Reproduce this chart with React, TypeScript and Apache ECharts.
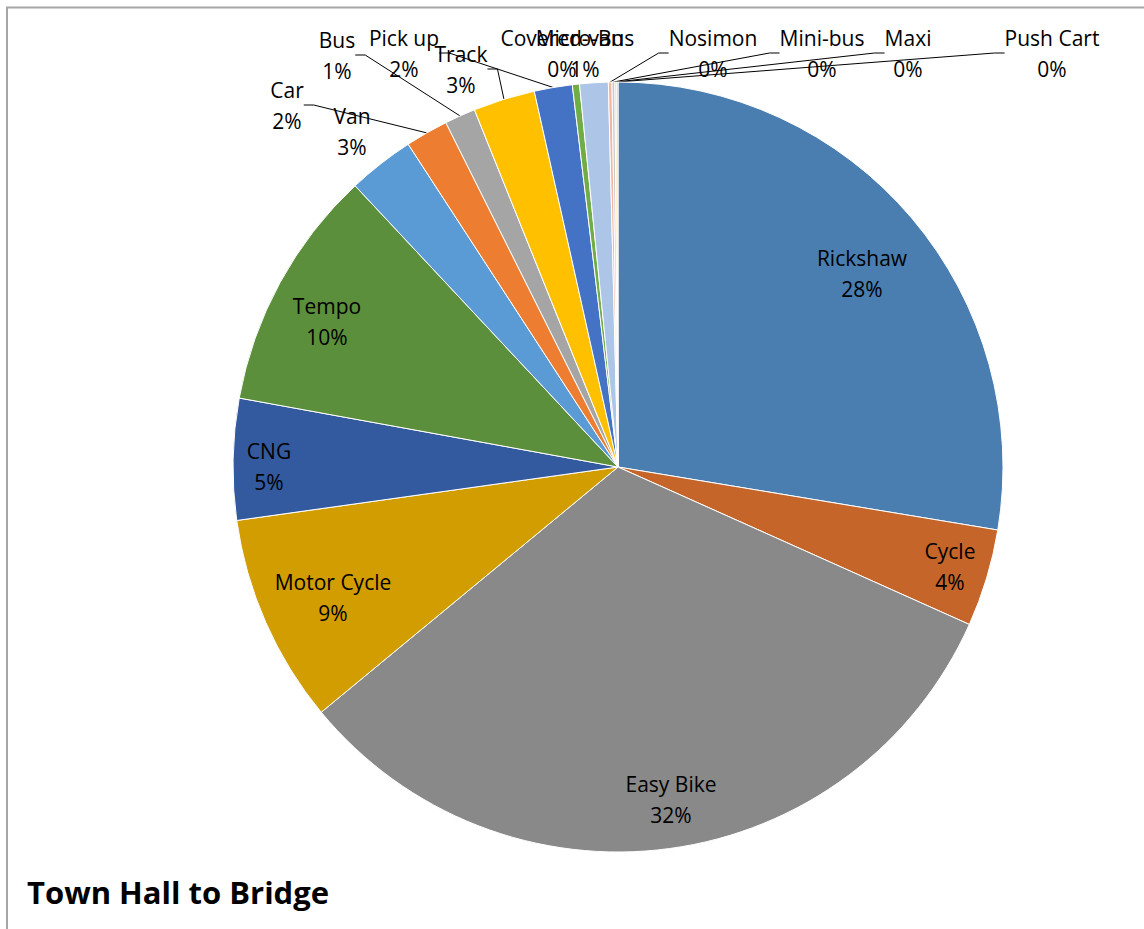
import React, { useEffect, useRef } from 'react';
import * as echarts from 'echarts';

const categories = ['Rickshaw', 'Cycle', 'Easy Bike', 'Motor Cycle', 'CNG', 'Tempo', 'Van', 'Car', 'Bus', 'Track', 'Pick up', 'Covered-van', 'Micro-Bus', 'Nosimon', 'Mini-bus', 'Maxi', 'Push Cart'];
const shares = [27.7, 4.1, 32.4, 8.8, 5.1, 10.2, 2.8, 1.8, 1.3, 2.6, 1.6, 0.3, 1.2, 0.15, 0.12, 0.08, 0.05];
const sliceColors = ['#4A7EB1', '#C5652A', '#898989', '#D29D00', '#335A9E', '#5B8F3B', '#5B9BD5', '#ED7D31', '#A5A5A5', '#FFC000', '#4472C4', '#70AD47', '#ADC5E7', '#F4B6A0', '#C9C9C9', '#FFD966', '#8FAADC'];
const titleText = 'Town Hall to Bridge';

// layout: label centres (Excel "best fit" placement)
const LABEL_POS: Record<string, [number, number]> = {
  Rickshaw: [862, 273],
  Cycle: [950, 566],
  'Easy Bike': [671, 799],
  'Motor Cycle': [333, 597],
  CNG: [269, 466],
  Tempo: [327, 321],
  Van: [352, 131],
  Car: [287, 105],
  Bus: [337, 55],
  'Pick up': [404, 53],
  Track: [461, 69],
  'Covered-van': [562, 53],
  'Micro-Bus': [585, 53],
  Nosimon: [713, 53],
  'Mini-bus': [822, 53],
  Maxi: [908, 53],
  'Push Cart': [1052, 53],
};
const OUTSIDE = new Set(['Van', 'Car', 'Bus', 'Pick up', 'Track', 'Covered-van', 'Micro-Bus', 'Nosimon', 'Mini-bus', 'Maxi', 'Push Cart']);
const LEADER = new Set(['Car', 'Bus', 'Pick up', 'Track', 'Nosimon', 'Mini-bus', 'Maxi', 'Push Cart']);

const CX = 618;
const CY = 467;
const R = 385;
const FONT = '"Open Sans", Lato, sans-serif';

export default function App() {
  const ref = useRef<HTMLDivElement>(null);
  useEffect(() => {
    if (!ref.current) return;
    const chart = echarts.init(ref.current, undefined, { renderer: 'svg' });
    const data = categories.map((name, i) => ({
      name,
      value: shares[i],
      itemStyle: { color: sliceColors[i] },
      label: { position: OUTSIDE.has(name) ? 'outside' : 'inside' },
      labelLine: { show: LEADER.has(name) },
    }));
    chart.setOption({
      animation: false,
      title: {
        text: titleText,
        left: 27,
        top: 876,
        padding: 0,
        textStyle: { fontFamily: FONT, fontSize: 31, fontWeight: 'bold', color: '#000' },
      },
      graphic: [
        {
          type: 'polyline',
          shape: { points: [[7, 929], [7, 7.5], [1144, 7.5]] },
          style: { stroke: '#A6A6A6', lineWidth: 2, fill: 'none' },
          silent: true,
        },
      ],
      series: [
        {
          type: 'pie',
          center: [CX, CY],
          radius: R,
          startAngle: 90,
          clockwise: true,
          avoidLabelOverlap: false,
          itemStyle: { borderColor: '#fff', borderWidth: 1 },
          label: {
            show: true,
            formatter: (p: any) => `${p.name}\n${Math.round(p.percent)}%`,
            fontFamily: FONT,
            fontSize: 21,
            lineHeight: 31,
            color: '#000',
            align: 'center',
          },
          labelLine: { show: true, length: 10, length2: 10, lineStyle: { color: '#000', width: 1 } },
          labelLayout: (params: any) => {
            const name = categories[params.dataIndex];
            const [x, y] = LABEL_POS[name];
            return { x, y, align: 'center', verticalAlign: 'middle' };
          },
          data,
        },
      ],
    });
    return () => chart.dispose();
  }, []);
  return <div ref={ref} style={{ position: 'fixed', left: 0, top: 0, width: 1144, height: 929, background: '#fff' }} />;
}
